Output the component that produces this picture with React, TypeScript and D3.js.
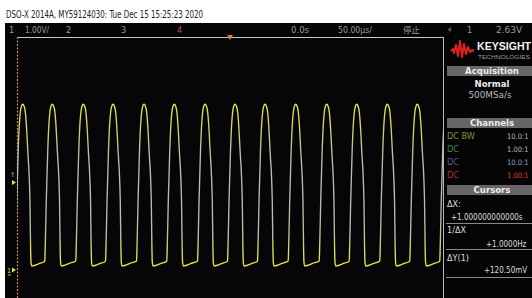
import { useMemo } from "react";
import * as d3 from "d3";

// peak times of the CH1 pulses, microseconds from trigger (last one is just past the right edge)
const peakTimesUs = [-243.3, -208.6, -172.2, -137.3, -100.9, -65.4, -29.3, 5.9, 41.1, 77.1, 113.5, 148.7, 184.6, 219.8, 255.0];
// one pulse, sampled relative to its peak
const cycleOffsetsUs = [-8.8, -8.2, -7.0, -5.3, -3.8, -2.8, -1.5, 0, 1.6, 3.1, 4.1, 5.9, 8.5, 9.2, 9.7, 10.6, 15.3, 20.0, 24.7];
const cycleVolts = [0.27, 0.75, 2.1, 3.6, 4.44, 4.74, 4.92, 4.98, 4.92, 4.74, 4.44, 3.6, 2.1, 0.75, 0.24, 0.12, 0.15, 0.2, 0.24];

const timeDomainUs = [-250, 250];
const voltDomain = [-1, 7];
const triggerLevel = 2.63;

const titleText = "DSO-X 2014A, MY59124030: Tue Dec 15 15:25:23 2020";
const channelRows = [
  { coupling: "DC BW", probe: "10.0:1", left: "#8c8c3c", right: "#b8b8b8" },
  { coupling: "DC", probe: "1.00:1", left: "#3f8a3f", right: "#b8b8b8" },
  { coupling: "DC", probe: "10.0:1", left: "#5a5aa8", right: "#9c9cd0" },
  { coupling: "DC", probe: "1.00:1", left: "#a83030", right: "#e03838" },
];

const W = 532;
const H = 298;
const gx0 = 17, gx1 = 443, gy0 = 37, gy1 = 298;
const narrow = "'Liberation Sans Narrow', 'DejaVu Sans Condensed', 'Arial Narrow', sans-serif";

export default function App() {
  const x = d3.scaleLinear().domain(timeDomainUs).range([gx0, gx1]);
  const y = d3.scaleLinear().domain(voltDomain).range([303.3, gy0]);

  const tracePath = useMemo(() => {
    const pts: [number, number][] = [];
    peakTimesUs.forEach(p => {
      cycleOffsetsUs.forEach((dt, i) => pts.push([p + dt, cycleVolts[i]]));
    });
    pts.sort((a, b) => a[0] - b[0]);
    const line = d3.line<[number, number]>()
      .x(d => x(d[0]))
      .y(d => y(d[1]))
      .curve(d3.curveMonotoneX);
    return line(pts) ?? "";
  }, []);

  const panelCx = 490;

  return (
    <div style={{ position: "absolute", left: 0, top: 0 }}>
      <svg width={W} height={H} style={{ display: "block" }}>
        <defs>
          <clipPath id="grat">
            <rect x={gx0} y={gy0} width={gx1 - gx0} height={gy1 - gy0} />
          </clipPath>
          <linearGradient id="traceCol" gradientUnits="userSpaceOnUse" x1="0" y1="100" x2="0" y2="270">
            <stop offset="0" stopColor="#e4e44c" />
            <stop offset="0.14" stopColor="#d8d858" />
            <stop offset="0.32" stopColor="#bcbca8" />
            <stop offset="0.78" stopColor="#bcbca8" />
            <stop offset="0.9" stopColor="#e2e246" />
            <stop offset="1" stopColor="#e6e63e" />
          </linearGradient>
        </defs>
        <rect width={W} height={H} fill="#ffffff" />
        <text x={6} y={18} fontSize={10} fontFamily={narrow} fill="#222" textLength={197} lengthAdjust="spacingAndGlyphs">
          {titleText}
        </text>

        {/* screen */}
        <rect x={5} y={23} width={W - 5} height={H - 23} fill="#050506" />

        {/* status bar */}
        <g fontFamily={narrow} fontSize={9} fill="#9a9a9a">
          <text x={9} y={33}>1</text>
          <text x={25} y={33} textLength={24} lengthAdjust="spacingAndGlyphs">1.00V/</text>
          <text x={66} y={33}>2</text>
          <text x={121} y={33}>3</text>
          <text x={177} y={33} fill="#b05050">4</text>
          <text x={291} y={33} textLength={18} lengthAdjust="spacingAndGlyphs">0.0s</text>
          <text x={338} y={33} textLength={34} lengthAdjust="spacingAndGlyphs">50.00µs/</text>
          <text x={403} y={33} fontFamily="'Noto Sans CJK SC', sans-serif" fontSize={8.5}>停止</text>
          <text x={447} y={33}>⚡</text>
          <text x={467} y={33}>1</text>
          <text x={496} y={33} textLength={26} lengthAdjust="spacingAndGlyphs">2.63V</text>
        </g>

        {/* graticule */}
        <rect x={gx0} y={gy0} width={gx1 - gx0} height={gy1 - gy0} fill="#060609" />
        <line x1={gx0} x2={gx1} y1={gy0 + 0.5} y2={gy0 + 0.5} stroke="#c8c8c8" strokeWidth={1} />
        <line x1={gx1 + 0.5} x2={gx1 + 0.5} y1={gy0} y2={H} stroke="#b8b8b8" strokeWidth={1} />
        <line x1={gx0 + 0.5} x2={gx0 + 0.5} y1={gy0} y2={H} stroke="#c88868" strokeWidth={1.2} strokeDasharray="2 1.5" />
        <path d={`M${x(0) - 3},${gy0 - 2} L${x(0) + 3},${gy0 - 2} L${x(0)},${gy0 + 3} Z`} fill="#e07830" />

        <path d={tracePath} fill="none" stroke="url(#traceCol)" strokeWidth={1.35} clipPath="url(#grat)" />

        {/* trigger and ground markers */}
        <text x={11} y={y(triggerLevel) - 5} fontSize={6} fontFamily={narrow} fill="#c8c8a0">T</text>
        <path d={`M${12},${y(triggerLevel) - 2.5} L${16},${y(triggerLevel)} L${12},${y(triggerLevel) + 2.5} Z`} fill="#e0e050" />
        <text x={7} y={y(0) + 3} fontSize={7} fontFamily={narrow} fill="#e0e050">1</text>
        <path d={`M${12},${y(0) - 2.5} L${16},${y(0)} L${12},${y(0) + 2.5} Z`} fill="#e0e050" />
        <line x1={8} x2={11} y1={y(0) + 5} y2={y(0) + 5} stroke="#e0e050" strokeWidth={0.8} />

        {/* side panel */}
        <g>
          <path d="M451,51 L453,49 L454,53 L456,45 L458,56 L460,41 L462,57 L464,44 L466,54 L468,47 L470,52 L472,50 L474,51"
            fill="none" stroke="#e02020" strokeWidth={2} strokeLinejoin="round" />
          <text x={477} y={50} fontSize={10} fontWeight="bold" fontFamily="'Liberation Sans', Arial, sans-serif" fill="#f2f2f2" textLength={54} lengthAdjust="spacingAndGlyphs">KEYSIGHT</text>
          <text x={478} y={59} fontSize={5} fontFamily="'Liberation Sans', Arial, sans-serif" fill="#9a9a9a" textLength={52} lengthAdjust="spacingAndGlyphs">TECHNOLOGIES</text>

          {[
            { label: "Acquisition", y0: 66 },
            { label: "Channels", y0: 118 },
            { label: "Cursors", y0: 185 },
          ].map(b => (
            <g key={b.label}>
              <rect x={447} y={b.y0} width={W - 447} height={10} fill="#666666" />
              <text x={panelCx + 2} y={b.y0 + 8.3} textAnchor="middle" fontSize={9.5} fontWeight="bold" fontFamily={narrow} fill="#ececec">{b.label}</text>
            </g>
          ))}

          <text x={492} y={87} textAnchor="middle" fontSize={9.5} fontWeight="bold" fontFamily={narrow} fill="#ececec">Normal</text>
          <text x={490} y={98} textAnchor="middle" fontSize={9.5} fontFamily={narrow} fill="#bcbcbc" textLength={43} lengthAdjust="spacingAndGlyphs">500MSa/s</text>

          {channelRows.map((r, i) => (
            <g key={i} fontFamily={narrow}>
              <text x={447} y={139 + i * 13} fontSize={9} fill={r.left}>{r.coupling}</text>
              <text x={507} y={139 + i * 13} fontSize={7.5} fill={r.right}>{r.probe}</text>
            </g>
          ))}

          <g fontSize={9} fontFamily={narrow} fill="#dedede">
            <text x={447} y={207}>ΔX:</text>
            <text x={451} y={220} fontSize={8}>+1.000000000000s</text>
            <text x={447} y={233}>1/ΔX</text>
            <text x={486} y={247} fontSize={8}>+1.0000Hz</text>
            <text x={447} y={261}>ΔY(1)</text>
            <text x={484} y={273} fontSize={8}>+120.50mV</text>
          </g>
          {[223, 249, 277].map(ly => (
            <line key={ly} x1={446} x2={W} y1={ly + 0.5} y2={ly + 0.5} stroke="#8a8a8a" strokeWidth={1} />
          ))}
        </g>
      </svg>
    </div>
  );
}
